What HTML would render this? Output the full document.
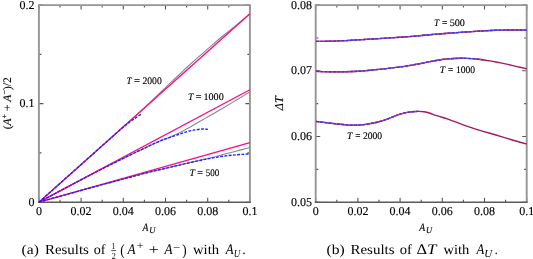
<!DOCTYPE html>
<html><head><meta charset="utf-8"><style>
html,body{margin:0;padding:0;background:#fff;}
body{width:533px;height:259px;overflow:hidden;}
svg{display:block;}
text{font-family:"Liberation Serif", serif;fill:#000;stroke:#000;stroke-width:0.14px;text-rendering:geometricPrecision;}
svg{will-change:transform;}
</style></head><body>
<svg width="533" height="259" viewBox="0 0 533 259">
<path d="M38.90,202.2v-4.5M38.90,5.1v4.5M81.10,202.2v-4.5M81.10,5.1v4.5M123.30,202.2v-4.5M123.30,5.1v4.5M165.50,202.2v-4.5M165.50,5.1v4.5M207.70,202.2v-4.5M207.70,5.1v4.5M249.90,202.2v-4.5M249.90,5.1v4.5M60.00,202.2v-2.5M60.00,5.1v2.5M102.20,202.2v-2.5M102.20,5.1v2.5M144.40,202.2v-2.5M144.40,5.1v2.5M186.60,202.2v-2.5M186.60,5.1v2.5M228.80,202.2v-2.5M228.80,5.1v2.5M38.9,202.20h4.5M249.9,202.20h-4.5M38.9,103.65h4.5M249.9,103.65h-4.5M38.9,5.10h4.5M249.9,5.10h-4.5M38.9,152.92h2.5M249.9,152.92h-2.5M38.9,54.38h2.5M249.9,54.38h-2.5" fill="none" stroke="#555555" stroke-width="1.1"/>
<path d="M38.9,5.1 V202.2 M249.9,5.1 V202.2" fill="none" stroke="#959595" stroke-width="1.9"/>
<path d="M37.949999999999996,5.1 H250.85" fill="none" stroke="#959595" stroke-width="1.9"/>
<path d="M37.949999999999996,202.2 H250.85" fill="none" stroke="#5a5a5a" stroke-width="1.5"/>
<path d="M38.90,202.20 C40.90,200.41 42.90,198.63 44.90,196.84 C46.90,195.06 48.90,193.27 50.90,191.49 C52.90,189.70 54.90,187.92 56.90,186.13 C58.90,184.35 60.90,182.56 62.90,180.78 C64.90,178.99 66.90,177.21 68.90,175.42 C70.90,173.64 72.90,171.85 74.90,170.07 C76.90,168.28 78.90,166.50 80.90,164.71 C82.90,162.93 84.90,161.14 86.90,159.36 C88.90,157.57 90.90,155.78 92.90,154.00 C94.90,152.21 96.90,150.43 98.90,148.64 C100.90,146.86 102.90,145.07 104.90,143.29 C106.90,141.50 108.90,139.72 110.90,137.93 C112.90,136.14 114.90,134.36 116.90,132.57 C118.90,130.78 120.90,129.00 122.90,127.21 C124.90,125.42 126.90,123.63 128.90,121.84 C130.90,120.05 132.90,118.26 134.90,116.47 C136.90,114.68 138.90,112.92 140.90,111.09 C142.90,109.27 144.90,107.34 146.90,105.41 C148.90,103.48 150.90,101.58 152.90,99.65 C154.90,97.72 156.90,95.78 158.90,93.86 C160.90,91.94 162.90,90.03 164.90,88.11 C166.90,86.20 168.90,84.29 170.90,82.39 C172.90,80.49 174.90,78.62 176.90,76.73 C178.90,74.83 180.90,72.94 182.90,71.06 C184.90,69.18 186.90,67.32 188.90,65.52 C190.90,63.71 192.90,61.95 194.90,60.19 C196.90,58.42 198.90,56.67 200.90,54.92 C202.90,53.17 204.90,51.43 206.90,49.68 C208.90,47.93 210.90,46.19 212.90,44.46 C214.90,42.72 216.90,41.00 218.90,39.29 C220.90,37.58 222.90,35.91 224.90,34.29 C226.90,32.67 228.90,31.08 230.90,29.48 C232.90,27.89 234.90,26.27 236.90,24.63 C238.90,22.99 240.90,21.34 242.90,19.68 C244.90,18.03 246.90,16.37 248.90,14.70 C249.23,14.42 249.57,14.14 249.90,13.86" fill="none" stroke="#8a8a8a" stroke-width="1.1"/>
<path d="M38.90,202.20 C40.90,201.13 42.90,200.07 44.90,199.00 C46.90,197.94 48.90,196.88 50.90,195.81 C52.90,194.75 54.90,193.69 56.90,192.62 C58.90,191.56 60.90,190.50 62.90,189.44 C64.90,188.38 66.90,187.32 68.90,186.26 C70.90,185.20 72.90,184.14 74.90,183.08 C76.90,182.02 78.90,180.97 80.90,179.92 C82.90,178.86 84.90,177.81 86.90,176.77 C88.90,175.72 90.90,174.67 92.90,173.63 C94.90,172.59 96.90,171.54 98.90,170.50 C100.90,169.47 102.90,168.44 104.90,167.43 C106.90,166.42 108.90,165.42 110.90,164.44 C112.90,163.45 114.90,162.47 116.90,161.50 C118.90,160.53 120.90,159.56 122.90,158.58 C124.90,157.61 126.90,156.64 128.90,155.66 C130.90,154.69 132.90,153.72 134.90,152.76 C136.90,151.79 138.90,150.83 140.90,149.88 C142.90,148.93 144.90,147.98 146.90,147.04 C148.90,146.10 150.90,145.16 152.90,144.24 C154.90,143.32 156.90,142.42 158.90,141.54 C160.90,140.65 162.90,139.84 164.90,139.06 C166.90,138.28 168.90,137.52 170.90,136.66 C172.90,135.81 174.90,134.84 176.90,133.90 C178.90,132.96 180.90,132.01 182.90,131.00 C184.90,129.99 186.90,128.93 188.90,127.80 C190.90,126.68 192.90,125.50 194.90,124.32 C196.90,123.14 198.90,121.97 200.90,120.81 C202.90,119.66 204.90,118.51 206.90,117.36 C208.90,116.21 210.90,115.06 212.90,113.90 C214.90,112.75 216.90,111.59 218.90,110.43 C220.90,109.27 222.90,108.10 224.90,106.92 C226.90,105.75 228.90,104.56 230.90,103.37 C232.90,102.18 234.90,100.98 236.90,99.77 C238.90,98.56 240.90,97.35 242.90,96.13 C244.90,94.91 246.90,93.68 248.90,92.45 C249.23,92.25 249.57,92.04 249.90,91.84" fill="none" stroke="#8a8a8a" stroke-width="1.1"/>
<path d="M38.90,202.20 C40.90,201.64 42.90,201.07 44.90,200.51 C46.90,199.95 48.90,199.39 50.90,198.83 C52.90,198.27 54.90,197.71 56.90,197.15 C58.90,196.60 60.90,196.04 62.90,195.48 C64.90,194.93 66.90,194.37 68.90,193.82 C70.90,193.27 72.90,192.71 74.90,192.16 C76.90,191.61 78.90,191.05 80.90,190.50 C82.90,189.95 84.90,189.40 86.90,188.84 C88.90,188.29 90.90,187.74 92.90,187.19 C94.90,186.65 96.90,186.11 98.90,185.57 C100.90,185.03 102.90,184.49 104.90,183.96 C106.90,183.42 108.90,182.89 110.90,182.36 C112.90,181.82 114.90,181.29 116.90,180.76 C118.90,180.22 120.90,179.69 122.90,179.15 C124.90,178.61 126.90,178.07 128.90,177.54 C130.90,177.00 132.90,176.46 134.90,175.92 C136.90,175.39 138.90,174.86 140.90,174.33 C142.90,173.80 144.90,173.27 146.90,172.77 C148.90,172.26 150.90,171.78 152.90,171.31 C154.90,170.84 156.90,170.38 158.90,169.91 C160.90,169.44 162.90,168.96 164.90,168.49 C166.90,168.01 168.90,167.54 170.90,167.07 C172.90,166.59 174.90,166.12 176.90,165.65 C178.90,165.18 180.90,164.71 182.90,164.24 C184.90,163.77 186.90,163.31 188.90,162.84 C190.90,162.38 192.90,161.92 194.90,161.46 C196.90,160.99 198.90,160.52 200.90,160.06 C202.90,159.60 204.90,159.14 206.90,158.67 C208.90,158.19 210.90,157.70 212.90,157.19 C214.90,156.68 216.90,156.16 218.90,155.64 C220.90,155.11 222.90,154.59 224.90,154.07 C226.90,153.55 228.90,153.02 230.90,152.50 C232.90,151.98 234.90,151.45 236.90,150.93 C238.90,150.40 240.90,149.88 242.90,149.35 C244.90,148.82 246.90,148.29 248.90,147.76 C249.23,147.67 249.57,147.59 249.90,147.50" fill="none" stroke="#8a8a8a" stroke-width="1.1"/>
<path d="M38.9,202.2 L249.9,13.86" fill="none" stroke="#ff0a85" stroke-width="1.35"/>
<path d="M38.9,202.2 L249.9,89.74" fill="none" stroke="#ff0a85" stroke-width="1.35"/>
<path d="M38.9,202.2 L249.9,142.70" fill="none" stroke="#ff0a85" stroke-width="1.35"/>
<path d="M38.90,202.20 C40.90,200.41 42.90,198.63 44.90,196.84 C46.90,195.06 48.90,193.27 50.90,191.49 C52.90,189.70 54.90,187.92 56.90,186.13 C58.90,184.35 60.90,182.56 62.90,180.78 C64.90,178.99 66.90,177.21 68.90,175.42 C70.90,173.64 72.90,171.85 74.90,170.07 C76.90,168.28 78.90,166.50 80.90,164.71 C82.90,162.93 84.90,161.14 86.90,159.36 C88.90,157.58 90.90,155.79 92.90,154.01 C94.90,152.23 96.90,150.45 98.90,148.67 C100.90,146.89 102.90,145.11 104.90,143.32 C106.90,141.54 108.90,139.76 110.90,137.99 C112.90,136.21 114.90,134.43 116.90,132.65 C118.90,130.88 120.90,129.10 122.90,127.41 C124.90,125.72 126.90,124.10 128.90,122.60 C130.90,121.11 132.90,119.75 134.90,118.39 C136.90,117.03 138.90,115.69 140.90,114.39 C141.13,114.23 141.37,114.08 141.60,113.93" fill="none" stroke="#2020ff" stroke-width="1.35" stroke-dasharray="2.9 1.35"/>
<path d="M38.90,202.20 C40.90,201.13 42.90,200.07 44.90,199.00 C46.90,197.94 48.90,196.88 50.90,195.81 C52.90,194.75 54.90,193.69 56.90,192.62 C58.90,191.56 60.90,190.50 62.90,189.44 C64.90,188.38 66.90,187.32 68.90,186.26 C70.90,185.20 72.90,184.14 74.90,183.08 C76.90,182.02 78.90,180.97 80.90,179.92 C82.90,178.86 84.90,177.81 86.90,176.77 C88.90,175.72 90.90,174.67 92.90,173.63 C94.90,172.59 96.90,171.54 98.90,170.50 C100.90,169.47 102.90,168.44 104.90,167.43 C106.90,166.42 108.90,165.42 110.90,164.44 C112.90,163.45 114.90,162.47 116.90,161.50 C118.90,160.53 120.90,159.56 122.90,158.58 C124.90,157.61 126.90,156.64 128.90,155.66 C130.90,154.69 132.90,153.72 134.90,152.76 C136.90,151.79 138.90,150.83 140.90,149.88 C142.90,148.93 144.90,147.98 146.90,147.04 C148.90,146.10 150.90,145.16 152.90,144.23 C154.90,143.31 156.90,142.39 158.90,141.53 C160.90,140.66 162.90,139.88 164.90,139.18 C166.90,138.47 168.90,137.83 170.90,137.15 C172.90,136.47 174.90,135.75 176.90,135.02 C178.90,134.29 180.90,133.56 182.90,132.89 C184.90,132.21 186.90,131.59 188.90,131.07 C190.90,130.55 192.90,130.24 194.90,129.92 C196.90,129.59 198.90,129.27 200.90,129.11 C202.90,128.95 204.90,128.97 206.90,129.25 C207.23,129.29 207.57,129.35 207.90,129.40" fill="none" stroke="#2020ff" stroke-width="1.35" stroke-dasharray="2.9 1.35"/>
<path d="M38.90,202.20 C40.90,201.64 42.90,201.07 44.90,200.51 C46.90,199.95 48.90,199.39 50.90,198.83 C52.90,198.27 54.90,197.71 56.90,197.15 C58.90,196.60 60.90,196.04 62.90,195.48 C64.90,194.93 66.90,194.37 68.90,193.82 C70.90,193.27 72.90,192.71 74.90,192.16 C76.90,191.61 78.90,191.05 80.90,190.50 C82.90,189.95 84.90,189.40 86.90,188.84 C88.90,188.29 90.90,187.74 92.90,187.19 C94.90,186.65 96.90,186.11 98.90,185.57 C100.90,185.03 102.90,184.49 104.90,183.96 C106.90,183.42 108.90,182.89 110.90,182.36 C112.90,181.82 114.90,181.29 116.90,180.76 C118.90,180.22 120.90,179.69 122.90,179.15 C124.90,178.61 126.90,178.07 128.90,177.54 C130.90,177.00 132.90,176.46 134.90,175.92 C136.90,175.39 138.90,174.86 140.90,174.33 C142.90,173.80 144.90,173.27 146.90,172.77 C148.90,172.26 150.90,171.78 152.90,171.31 C154.90,170.84 156.90,170.38 158.90,169.91 C160.90,169.44 162.90,168.96 164.90,168.48 C166.90,168.01 168.90,167.53 170.90,167.06 C172.90,166.58 174.90,166.11 176.90,165.64 C178.90,165.17 180.90,164.70 182.90,164.23 C184.90,163.77 186.90,163.31 188.90,162.85 C190.90,162.40 192.90,161.95 194.90,161.51 C196.90,161.07 198.90,160.64 200.90,160.23 C202.90,159.82 204.90,159.42 206.90,159.04 C208.90,158.65 210.90,158.28 212.90,157.92 C214.90,157.56 216.90,157.21 218.90,156.88 C220.90,156.56 222.90,156.25 224.90,155.98 C226.90,155.71 228.90,155.48 230.90,155.28 C232.90,155.09 234.90,154.91 236.90,154.74 C238.90,154.58 240.90,154.43 242.90,154.32 C244.90,154.20 246.90,154.11 248.90,154.03 C249.23,154.02 249.57,154.01 249.90,154.00" fill="none" stroke="#2020ff" stroke-width="1.35" stroke-dasharray="2.9 1.35"/>
<text x="34.6" y="205.79999999999998" font-size="12" text-anchor="end" style="" >0</text>
<text x="34.6" y="107.24999999999999" font-size="12" text-anchor="end" style="" >0.1</text>
<text x="34.6" y="8.699999999999994" font-size="12" text-anchor="end" style="" >0.2</text>
<text x="38.90" y="215.2" font-size="12" text-anchor="middle" style="" >0</text>
<text x="81.10" y="215.2" font-size="12" text-anchor="middle" style="" >0.02</text>
<text x="123.30" y="215.2" font-size="12" text-anchor="middle" style="" >0.04</text>
<text x="165.50" y="215.2" font-size="12" text-anchor="middle" style="" >0.06</text>
<text x="207.70" y="215.2" font-size="12" text-anchor="middle" style="" >0.08</text>
<text x="249.90" y="215.2" font-size="12" text-anchor="middle" style="" >0.1</text>
<text id="xlA" transform="translate(142.530,230.6) scale(0.8500,1)" x="0" y="0" font-size="11.4" style="font-style:italic;">A</text>
<text id="xlU" transform="translate(149.276,233.0) scale(0.9600,1)" x="0" y="0" font-size="8.8" style="font-style:italic;">U</text>
<g transform="translate(11.3,103.3) rotate(-90)"><text x="0" y="0" font-size="11.5" text-anchor="middle"><tspan>(</tspan><tspan style="font-style:italic">A</tspan><tspan font-size="8" dy="-4.5">+</tspan><tspan dy="4.5"> + </tspan><tspan style="font-style:italic">A</tspan><tspan font-size="8" dy="-4.5">−</tspan><tspan dy="4.5">)/2</tspan></text></g>
<text id="l2kT" transform="translate(126.493,84.0) scale(0.9235,1)" x="0" y="0" font-size="10.0" style="font-style:italic;">T</text>
<text id="l2kE" transform="translate(133.911,84.0) scale(1.0649,1)" x="0" y="0" font-size="10.0" style="">=</text>
<text id="l2kD" transform="translate(142.458,84.0) scale(0.9640,1)" x="0" y="0" font-size="10.0" style="">2000</text>
<text id="l1kT" transform="translate(187.944,99.6) scale(0.9767,1)" x="0" y="0" font-size="10.0" style="font-style:italic;">T</text>
<text id="l1kE" transform="translate(195.676,99.6) scale(1.0100,1)" x="0" y="0" font-size="10.0" style="">=</text>
<text id="l1kD" transform="translate(203.437,99.6) scale(1.0134,1)" x="0" y="0" font-size="10.0" style="">1000</text>
<text id="l5hT" transform="translate(189.444,175.6) scale(0.9767,1)" x="0" y="0" font-size="10.0" style="font-style:italic;">T</text>
<text id="l5hE" transform="translate(197.176,175.6) scale(1.0100,1)" x="0" y="0" font-size="10.0" style="">=</text>
<text id="l5hD" transform="translate(205.648,175.6) scale(0.9000,1)" x="0" y="0" font-size="10.0" style="">500</text>
<path d="M315.70,202.2v-4.5M315.70,5.1v4.5M357.90,202.2v-4.5M357.90,5.1v4.5M400.10,202.2v-4.5M400.10,5.1v4.5M442.30,202.2v-4.5M442.30,5.1v4.5M484.50,202.2v-4.5M484.50,5.1v4.5M526.70,202.2v-4.5M526.70,5.1v4.5M336.80,202.2v-2.5M336.80,5.1v2.5M379.00,202.2v-2.5M379.00,5.1v2.5M421.20,202.2v-2.5M421.20,5.1v2.5M463.40,202.2v-2.5M463.40,5.1v2.5M505.60,202.2v-2.5M505.60,5.1v2.5M315.7,202.20h4.5M526.7,202.20h-4.5M315.7,136.50h4.5M526.7,136.50h-4.5M315.7,70.80h4.5M526.7,70.80h-4.5M315.7,5.10h4.5M526.7,5.10h-4.5M315.7,169.35h2.5M526.7,169.35h-2.5M315.7,103.65h2.5M526.7,103.65h-2.5M315.7,37.95h2.5M526.7,37.95h-2.5" fill="none" stroke="#555555" stroke-width="1.1"/>
<path d="M315.7,5.1 V202.2 M526.7,5.1 V202.2" fill="none" stroke="#959595" stroke-width="1.9"/>
<path d="M314.75,5.1 H527.6500000000001" fill="none" stroke="#959595" stroke-width="1.9"/>
<path d="M314.75,202.2 H527.6500000000001" fill="none" stroke="#5a5a5a" stroke-width="1.5"/>
<path d="M316.00,41.40 C318.00,41.40 320.00,41.39 322.00,41.37 C324.00,41.34 326.00,41.31 328.00,41.26 C330.00,41.21 332.00,41.15 334.00,41.07 C336.00,41.00 338.00,40.92 340.00,40.83 C342.00,40.75 344.00,40.65 346.00,40.55 C348.00,40.45 350.00,40.34 352.00,40.23 C354.00,40.12 356.00,40.00 358.00,39.88 C360.00,39.77 362.00,39.65 364.00,39.53 C366.00,39.41 368.00,39.29 370.00,39.16 C372.00,39.04 374.00,38.92 376.00,38.80 C378.00,38.68 380.00,38.56 382.00,38.44 C384.00,38.32 386.00,38.19 388.00,38.07 C390.00,37.94 392.00,37.82 394.00,37.68 C396.00,37.55 398.00,37.41 400.00,37.27 C402.00,37.13 404.00,36.98 406.00,36.82 C408.00,36.67 410.00,36.51 412.00,36.34 C414.00,36.18 416.00,36.00 418.00,35.82 C420.00,35.64 422.00,35.46 424.00,35.28 C426.00,35.09 428.00,34.91 430.00,34.73 C432.00,34.54 434.00,34.37 436.00,34.20 C438.00,34.03 440.00,33.87 442.00,33.72 C444.00,33.57 446.00,33.42 448.00,33.27 C450.00,33.13 452.00,32.99 454.00,32.84 C456.00,32.70 458.00,32.56 460.00,32.41 C462.00,32.27 464.00,32.13 466.00,31.98 C468.00,31.84 470.00,31.70 472.00,31.57 C474.00,31.43 476.00,31.30 478.00,31.17 C480.00,31.04 482.00,30.92 484.00,30.81 C486.00,30.70 488.00,30.59 490.00,30.50 C492.00,30.40 494.00,30.32 496.00,30.25 C498.00,30.18 500.00,30.12 502.00,30.08 C504.00,30.03 506.00,30.00 508.00,29.97 C510.00,29.95 512.00,29.94 514.00,29.94 C516.00,29.95 518.00,29.96 520.00,29.98 C522.00,30.01 524.00,30.04 526.00,30.08 C526.23,30.09 526.47,30.09 526.70,30.10" fill="none" stroke="#a8185e" stroke-width="1.35"/>
<path d="M316.00,71.40 C318.00,71.46 320.00,71.52 322.00,71.57 C324.00,71.62 326.00,71.67 328.00,71.71 C330.00,71.74 332.00,71.77 334.00,71.79 C336.00,71.80 338.00,71.81 340.00,71.80 C342.00,71.79 344.00,71.76 346.00,71.72 C348.00,71.68 350.00,71.62 352.00,71.54 C354.00,71.46 356.00,71.36 358.00,71.23 C360.00,71.11 362.00,70.97 364.00,70.81 C366.00,70.64 368.00,70.47 370.00,70.28 C372.00,70.10 374.00,69.90 376.00,69.70 C378.00,69.50 380.00,69.29 382.00,69.08 C384.00,68.87 386.00,68.65 388.00,68.42 C390.00,68.19 392.00,67.95 394.00,67.70 C396.00,67.45 398.00,67.19 400.00,66.92 C402.00,66.65 404.00,66.37 406.00,66.06 C408.00,65.76 410.00,65.44 412.00,65.10 C414.00,64.77 416.00,64.41 418.00,64.03 C420.00,63.65 422.00,63.25 424.00,62.85 C426.00,62.45 428.00,62.04 430.00,61.65 C432.00,61.25 434.00,60.86 436.00,60.50 C438.00,60.14 440.00,59.79 442.00,59.50 C444.00,59.21 446.00,58.98 448.00,58.82 C450.00,58.65 452.00,58.55 454.00,58.47 C456.00,58.39 458.00,58.33 460.00,58.29 C462.00,58.25 464.00,58.25 466.00,58.30 C468.00,58.35 470.00,58.47 472.00,58.63 C474.00,58.79 476.00,58.99 478.00,59.22 C480.00,59.45 482.00,59.71 484.00,60.00 C486.00,60.29 488.00,60.61 490.00,60.94 C492.00,61.27 494.00,61.63 496.00,62.00 C498.00,62.37 500.00,62.76 502.00,63.16 C504.00,63.57 506.00,63.99 508.00,64.44 C510.00,64.89 512.00,65.35 514.00,65.83 C516.00,66.30 518.00,66.78 520.00,67.25 C522.00,67.72 524.00,68.19 526.00,68.64 C526.23,68.70 526.47,68.75 526.70,68.80" fill="none" stroke="#a8185e" stroke-width="1.35"/>
<path d="M316.00,121.40 C318.00,121.68 320.00,121.94 322.00,122.18 C324.00,122.42 326.00,122.65 328.00,122.88 C330.00,123.11 332.00,123.33 334.00,123.56 C336.00,123.80 338.00,124.05 340.00,124.28 C342.00,124.52 344.00,124.74 346.00,124.90 C348.00,125.06 350.00,125.15 352.00,125.18 C354.00,125.21 356.00,125.17 358.00,125.07 C360.00,124.96 362.00,124.78 364.00,124.55 C366.00,124.32 368.00,124.03 370.00,123.69 C372.00,123.34 374.00,122.95 376.00,122.50 C378.00,122.05 380.00,121.55 382.00,120.96 C384.00,120.37 386.00,119.68 388.00,118.89 C390.00,118.09 392.00,117.22 394.00,116.40 C396.00,115.58 398.00,114.82 400.00,114.18 C402.00,113.54 404.00,113.01 406.00,112.60 C408.00,112.19 410.00,111.91 412.00,111.72 C414.00,111.53 416.00,111.42 418.00,111.39 C420.00,111.37 422.00,111.45 424.00,111.74 C426.00,112.03 428.00,112.57 430.00,113.25 C432.00,113.93 434.00,114.72 436.00,115.40 C438.00,116.08 440.00,116.67 442.00,117.26 C444.00,117.86 446.00,118.48 448.00,119.19 C450.00,119.90 452.00,120.67 454.00,121.44 C456.00,122.21 458.00,122.95 460.00,123.67 C462.00,124.39 464.00,125.10 466.00,125.80 C468.00,126.50 470.00,127.21 472.00,127.89 C474.00,128.57 476.00,129.21 478.00,129.81 C480.00,130.41 482.00,130.98 484.00,131.54 C486.00,132.10 488.00,132.66 490.00,133.24 C492.00,133.81 494.00,134.40 496.00,135.00 C498.00,135.60 500.00,136.23 502.00,136.85 C504.00,137.48 506.00,138.10 508.00,138.72 C510.00,139.33 512.00,139.93 514.00,140.52 C516.00,141.11 518.00,141.68 520.00,142.23 C522.00,142.78 524.00,143.31 526.00,143.82 C526.23,143.88 526.47,143.94 526.70,144.00" fill="none" stroke="#a8185e" stroke-width="1.35"/>
<path d="M316.00,41.40 C318.00,41.40 320.00,41.39 322.00,41.37 C324.00,41.34 326.00,41.31 328.00,41.26 C330.00,41.21 332.00,41.15 334.00,41.07 C336.00,41.00 338.00,40.92 340.00,40.83 C342.00,40.75 344.00,40.65 346.00,40.55 C348.00,40.45 350.00,40.34 352.00,40.23 C354.00,40.12 356.00,40.00 358.00,39.88 C360.00,39.77 362.00,39.65 364.00,39.53 C366.00,39.41 368.00,39.29 370.00,39.16 C372.00,39.04 374.00,38.92 376.00,38.80 C378.00,38.68 380.00,38.56 382.00,38.44 C384.00,38.32 386.00,38.19 388.00,38.07 C390.00,37.94 392.00,37.82 394.00,37.68 C396.00,37.55 398.00,37.41 400.00,37.27 C402.00,37.13 404.00,36.98 406.00,36.82 C408.00,36.67 410.00,36.51 412.00,36.34 C414.00,36.18 416.00,36.00 418.00,35.82 C420.00,35.64 422.00,35.46 424.00,35.28 C426.00,35.09 428.00,34.91 430.00,34.73 C432.00,34.54 434.00,34.37 436.00,34.20 C438.00,34.03 440.00,33.87 442.00,33.72 C444.00,33.57 446.00,33.42 448.00,33.27 C450.00,33.13 452.00,32.99 454.00,32.84 C456.00,32.70 458.00,32.56 460.00,32.41 C462.00,32.27 464.00,32.13 466.00,31.98 C468.00,31.84 470.00,31.70 472.00,31.57 C474.00,31.43 476.00,31.30 478.00,31.17 C480.00,31.04 482.00,30.92 484.00,30.81 C486.00,30.70 488.00,30.59 490.00,30.50 C492.00,30.40 494.00,30.32 496.00,30.25 C498.00,30.18 500.00,30.12 502.00,30.08 C504.00,30.03 506.00,30.00 508.00,29.97 C510.00,29.95 512.00,29.94 514.00,29.94 C516.00,29.95 518.00,29.96 520.00,29.98 C522.00,30.01 524.00,30.04 526.00,30.08 C526.23,30.09 526.47,30.09 526.70,30.10" fill="none" stroke="#c8447a" stroke-width="1.35"/>
<path d="M316.00,71.40 C318.00,71.46 320.00,71.52 322.00,71.57 C324.00,71.62 326.00,71.67 328.00,71.71 C330.00,71.74 332.00,71.77 334.00,71.79 C336.00,71.80 338.00,71.81 340.00,71.80 C342.00,71.79 344.00,71.76 346.00,71.72 C348.00,71.68 350.00,71.62 352.00,71.54 C354.00,71.46 356.00,71.36 358.00,71.23 C360.00,71.11 362.00,70.97 364.00,70.81 C366.00,70.64 368.00,70.47 370.00,70.28 C372.00,70.10 374.00,69.90 376.00,69.70 C378.00,69.50 380.00,69.29 382.00,69.08 C384.00,68.87 386.00,68.65 388.00,68.42 C390.00,68.19 392.00,67.95 394.00,67.70 C396.00,67.45 398.00,67.19 400.00,66.92 C402.00,66.65 404.00,66.37 406.00,66.06 C408.00,65.76 410.00,65.44 412.00,65.10 C414.00,64.77 416.00,64.41 418.00,64.03 C420.00,63.65 422.00,63.25 424.00,62.85 C426.00,62.45 428.00,62.04 430.00,61.65 C432.00,61.25 434.00,60.86 436.00,60.50 C438.00,60.14 440.00,59.79 442.00,59.50 C444.00,59.21 446.00,58.98 448.00,58.82 C450.00,58.65 452.00,58.55 454.00,58.47 C456.00,58.39 458.00,58.33 460.00,58.29 C462.00,58.25 464.00,58.25 466.00,58.30 C468.00,58.35 470.00,58.47 472.00,58.63 C474.00,58.79 476.00,58.99 478.00,59.22 C479.90,59.44 481.80,59.69 483.70,59.96" fill="none" stroke="#c8447a" stroke-width="1.35"/>
<path d="M316.00,121.40 C318.00,121.68 320.00,121.94 322.00,122.18 C324.00,122.42 326.00,122.65 328.00,122.88 C330.00,123.11 332.00,123.33 334.00,123.56 C336.00,123.80 338.00,124.05 340.00,124.28 C342.00,124.52 344.00,124.74 346.00,124.90 C348.00,125.06 350.00,125.15 352.00,125.18 C354.00,125.21 356.00,125.17 358.00,125.07 C360.00,124.96 362.00,124.78 364.00,124.55 C366.00,124.32 368.00,124.03 370.00,123.69 C372.00,123.34 374.00,122.95 376.00,122.50 C378.00,122.05 380.00,121.55 382.00,120.96 C384.00,120.37 386.00,119.68 388.00,118.89 C390.00,118.09 392.00,117.22 394.00,116.40 C396.00,115.58 398.00,114.82 400.00,114.18 C402.00,113.54 404.00,113.01 406.00,112.60 C408.00,112.19 410.00,111.91 412.00,111.72 C414.00,111.53 416.00,111.42 418.00,111.39 C418.43,111.39 418.87,111.39 419.30,111.39" fill="none" stroke="#c8447a" stroke-width="1.35"/>
<path d="M316.00,41.40 C318.00,41.40 320.00,41.39 322.00,41.37 C324.00,41.34 326.00,41.31 328.00,41.26 C330.00,41.21 332.00,41.15 334.00,41.07 C336.00,41.00 338.00,40.92 340.00,40.83 C342.00,40.75 344.00,40.65 346.00,40.55 C348.00,40.45 350.00,40.34 352.00,40.23 C354.00,40.12 356.00,40.00 358.00,39.88 C360.00,39.77 362.00,39.65 364.00,39.53 C366.00,39.41 368.00,39.29 370.00,39.16 C372.00,39.04 374.00,38.92 376.00,38.80 C378.00,38.68 380.00,38.56 382.00,38.44 C384.00,38.32 386.00,38.19 388.00,38.07 C390.00,37.94 392.00,37.82 394.00,37.68 C396.00,37.55 398.00,37.41 400.00,37.27 C402.00,37.13 404.00,36.98 406.00,36.82 C408.00,36.67 410.00,36.51 412.00,36.34 C414.00,36.18 416.00,36.00 418.00,35.82 C420.00,35.64 422.00,35.46 424.00,35.28 C426.00,35.09 428.00,34.91 430.00,34.73 C432.00,34.54 434.00,34.37 436.00,34.20 C438.00,34.03 440.00,33.87 442.00,33.72 C444.00,33.57 446.00,33.42 448.00,33.27 C450.00,33.13 452.00,32.99 454.00,32.84 C456.00,32.70 458.00,32.56 460.00,32.41 C462.00,32.27 464.00,32.13 466.00,31.98 C468.00,31.84 470.00,31.70 472.00,31.57 C474.00,31.43 476.00,31.30 478.00,31.17 C480.00,31.04 482.00,30.92 484.00,30.81 C486.00,30.70 488.00,30.59 490.00,30.50 C492.00,30.40 494.00,30.32 496.00,30.25 C498.00,30.18 500.00,30.12 502.00,30.08 C504.00,30.03 506.00,30.00 508.00,29.97 C510.00,29.95 512.00,29.94 514.00,29.94 C516.00,29.95 518.00,29.96 520.00,29.98 C522.00,30.01 524.00,30.04 526.00,30.08 C526.23,30.09 526.47,30.09 526.70,30.10" fill="none" stroke="#3434ff" stroke-width="1.35" stroke-dasharray="2.9 1.35"/>
<path d="M316.00,71.40 C318.00,71.46 320.00,71.52 322.00,71.57 C324.00,71.62 326.00,71.67 328.00,71.71 C330.00,71.74 332.00,71.77 334.00,71.79 C336.00,71.80 338.00,71.81 340.00,71.80 C342.00,71.79 344.00,71.76 346.00,71.72 C348.00,71.68 350.00,71.62 352.00,71.54 C354.00,71.46 356.00,71.36 358.00,71.23 C360.00,71.11 362.00,70.97 364.00,70.81 C366.00,70.64 368.00,70.47 370.00,70.28 C372.00,70.10 374.00,69.90 376.00,69.70 C378.00,69.50 380.00,69.29 382.00,69.08 C384.00,68.87 386.00,68.65 388.00,68.42 C390.00,68.19 392.00,67.95 394.00,67.70 C396.00,67.45 398.00,67.19 400.00,66.92 C402.00,66.65 404.00,66.37 406.00,66.06 C408.00,65.76 410.00,65.44 412.00,65.10 C414.00,64.77 416.00,64.41 418.00,64.03 C420.00,63.65 422.00,63.25 424.00,62.85 C426.00,62.45 428.00,62.04 430.00,61.65 C432.00,61.25 434.00,60.86 436.00,60.50 C438.00,60.14 440.00,59.79 442.00,59.50 C444.00,59.21 446.00,58.98 448.00,58.82 C450.00,58.65 452.00,58.55 454.00,58.47 C456.00,58.39 458.00,58.33 460.00,58.29 C462.00,58.25 464.00,58.25 466.00,58.30 C468.00,58.35 470.00,58.47 472.00,58.63 C474.00,58.79 476.00,58.99 478.00,59.22 C479.90,59.44 481.80,59.69 483.70,59.96" fill="none" stroke="#3434ff" stroke-width="1.35" stroke-dasharray="2.9 1.35"/>
<path d="M316.00,121.40 C318.00,121.68 320.00,121.94 322.00,122.18 C324.00,122.42 326.00,122.65 328.00,122.88 C330.00,123.11 332.00,123.33 334.00,123.56 C336.00,123.80 338.00,124.05 340.00,124.28 C342.00,124.52 344.00,124.74 346.00,124.90 C348.00,125.06 350.00,125.15 352.00,125.18 C354.00,125.21 356.00,125.17 358.00,125.07 C360.00,124.96 362.00,124.78 364.00,124.55 C366.00,124.32 368.00,124.03 370.00,123.69 C372.00,123.34 374.00,122.95 376.00,122.50 C378.00,122.05 380.00,121.55 382.00,120.96 C384.00,120.37 386.00,119.68 388.00,118.89 C390.00,118.09 392.00,117.22 394.00,116.40 C396.00,115.58 398.00,114.82 400.00,114.18 C402.00,113.54 404.00,113.01 406.00,112.60 C408.00,112.19 410.00,111.91 412.00,111.72 C414.00,111.53 416.00,111.42 418.00,111.39 C418.43,111.39 418.87,111.39 419.30,111.39" fill="none" stroke="#3434ff" stroke-width="1.35" stroke-dasharray="2.9 1.35"/>
<text x="312.1" y="205.60" font-size="12" text-anchor="end" style="" >0.05</text>
<text x="312.1" y="139.90" font-size="12" text-anchor="end" style="" >0.06</text>
<text x="312.1" y="74.20" font-size="12" text-anchor="end" style="" >0.07</text>
<text x="312.1" y="8.50" font-size="12" text-anchor="end" style="" >0.08</text>
<text x="315.70" y="215.2" font-size="12" text-anchor="middle" style="" >0</text>
<text x="357.90" y="215.2" font-size="12" text-anchor="middle" style="" >0.02</text>
<text x="400.10" y="215.2" font-size="12" text-anchor="middle" style="" >0.04</text>
<text x="442.30" y="215.2" font-size="12" text-anchor="middle" style="" >0.06</text>
<text x="484.50" y="215.2" font-size="12" text-anchor="middle" style="" >0.08</text>
<text x="526.70" y="215.2" font-size="12" text-anchor="middle" style="" >0.1</text>
<text id="xrA" transform="translate(419.355,230.6) scale(0.8500,1)" x="0" y="0" font-size="11.4" style="font-style:italic;">A</text>
<text id="xrU" transform="translate(426.028,233.0) scale(0.9600,1)" x="0" y="0" font-size="8.8" style="font-style:italic;">U</text>
<g transform="translate(283,103.3) rotate(-90)"><text x="0" y="0" font-size="12" text-anchor="middle" style="font-style:italic">ΔT</text></g>
<text id="r5hT" transform="translate(433.973,26.0) scale(0.9342,1)" x="0" y="0" font-size="10.0" style="font-style:italic;">T</text>
<text id="r5hE" transform="translate(441.962,26.0) scale(0.9597,1)" x="0" y="0" font-size="10.0" style="">=</text>
<text id="r5hD" transform="translate(449.695,26.0) scale(1.0077,1)" x="0" y="0" font-size="10.0" style="">500</text>
<text id="r1kT" transform="translate(439.696,72.6) scale(0.9767,1)" x="0" y="0" font-size="10.0" style="font-style:italic;">T</text>
<text id="r1kE" transform="translate(447.972,72.6) scale(0.9143,1)" x="0" y="0" font-size="10.0" style="">=</text>
<text id="r1kD" transform="translate(455.979,72.6) scale(0.9533,1)" x="0" y="0" font-size="10.0" style="">1000</text>
<text id="r2kT" transform="translate(346.944,138.9) scale(0.9767,1)" x="0" y="0" font-size="10.0" style="font-style:italic;">T</text>
<text id="r2kE" transform="translate(355.221,138.9) scale(0.9326,1)" x="0" y="0" font-size="10.0" style="">=</text>
<text id="r2kD" transform="translate(362.958,138.9) scale(0.9570,1)" x="0" y="0" font-size="10.0" style="">2000</text>
<text id="ca1" transform="translate(21.593,253.8) scale(1.1264,1)" x="0" y="0" font-size="13.8" style="stroke-width:0.0px;">(a)</text>
<text id="ca2" transform="translate(44.925,253.8) scale(1.0818,1)" x="0" y="0" font-size="13.8" style="stroke-width:0.0px;">Results</text>
<text id="ca3" transform="translate(93.637,253.8) scale(1.0237,1)" x="0" y="0" font-size="13.8" style="stroke-width:0.0px;">of</text>
<text id="ca4" transform="translate(111.544,248.6) scale(0.8500,1)" x="0" y="0" font-size="9.2" style="stroke-width:0.0px;">1</text>
<text id="ca5" transform="translate(111.645,258.6) scale(0.8845,1)" x="0" y="0" font-size="9.2" style="stroke-width:0.0px;">2</text>
<path d="M111.2,250.6 H116.1" stroke="#000" stroke-width="0.7"/>
<text id="ca6" transform="translate(120.241,254.8) scale(0.8500,1)" x="0" y="0" font-size="15.5" style="stroke-width:0.0px;">(</text>
<text id="ca7" transform="translate(127.608,254.2) scale(0.9026,1)" x="0" y="0" font-size="14.6" style="font-style:italic;stroke-width:0.0px;">A</text>
<text id="ca8" transform="translate(136.806,249.3) scale(1.1308,1)" x="0" y="0" font-size="10.5" style="stroke-width:0.0px;">+</text>
<text id="ca9" transform="translate(148.872,253.8) scale(1.2834,1)" x="0" y="0" font-size="13.8" style="stroke-width:0.0px;">+</text>
<text id="ca10" transform="translate(164.459,254.2) scale(0.9019,1)" x="0" y="0" font-size="14.6" style="font-style:italic;stroke-width:0.0px;">A</text>
<text id="ca11" transform="translate(173.042,250.5) scale(1.2008,1)" x="0" y="0" font-size="10.5" style="stroke-width:0.0px;">−</text>
<text id="ca12" transform="translate(182.159,254.8) scale(0.8500,1)" x="0" y="0" font-size="15.5" style="stroke-width:0.0px;">)</text>
<text id="ca13" transform="translate(193.008,253.8) scale(1.0647,1)" x="0" y="0" font-size="13.8" style="stroke-width:0.0px;">with</text>
<text id="ca14" transform="translate(225.661,254.2) scale(0.8824,1)" x="0" y="0" font-size="14.6" style="font-style:italic;stroke-width:0.0px;">A</text>
<text id="ca15" transform="translate(233.771,256.6) scale(0.8529,1)" x="0" y="0" font-size="10.6" style="font-style:italic;stroke-width:0.0px;">U</text>
<text id="ca16" transform="translate(242.456,253.8) scale(0.9067,1)" x="0" y="0" font-size="13.8" style="stroke-width:0.0px;">.</text>
<text id="cb1" transform="translate(326.531,253.8) scale(1.1293,1)" x="0" y="0" font-size="13.8" style="stroke-width:0.0px;">(b)</text>
<text id="cb2" transform="translate(350.462,253.8) scale(1.0854,1)" x="0" y="0" font-size="13.8" style="stroke-width:0.0px;">Results</text>
<text id="cb3" transform="translate(399.627,253.8) scale(1.0598,1)" x="0" y="0" font-size="13.8" style="stroke-width:0.0px;">of</text>
<text id="cb4" transform="translate(416.427,254.2) scale(1.1285,1)" x="0" y="0" font-size="14.6" style="stroke-width:0.0px;">Δ</text>
<text id="cb5" transform="translate(427.120,254.2) scale(1.1659,1)" x="0" y="0" font-size="14.6" style="font-style:italic;stroke-width:0.0px;">T</text>
<text id="cb6" transform="translate(443.594,253.8) scale(1.0508,1)" x="0" y="0" font-size="13.8" style="stroke-width:0.0px;">with</text>
<text id="cb7" transform="translate(476.535,254.2) scale(0.8755,1)" x="0" y="0" font-size="14.6" style="font-style:italic;stroke-width:0.0px;">A</text>
<text id="cb8" transform="translate(484.282,256.6) scale(1.0310,1)" x="0" y="0" font-size="10.6" style="font-style:italic;stroke-width:0.0px;">U</text>
<text id="cb9" transform="translate(494.638,253.8) scale(0.8500,1)" x="0" y="0" font-size="13.8" style="stroke-width:0.0px;">.</text>
</svg>
</body></html>
